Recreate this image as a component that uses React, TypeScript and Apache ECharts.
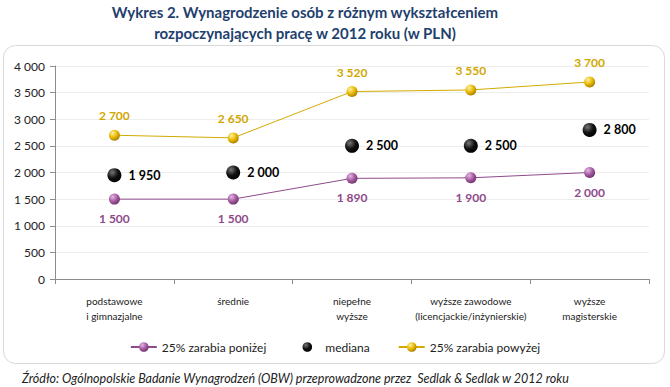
import React, { useEffect, useRef } from "react";
import * as echarts from "echarts";

const categories = [
  "podstawowe\ni gimnazjalne",
  "średnie",
  "niepełne\nwyższe",
  "wyższe zawodowe\n(licencjackie/inżynierskie)",
  "wyższe\nmagisterskie",
];
const lower25 = [1500, 1500, 1890, 1900, 2000];
const median = [1950, 2000, 2500, 2500, 2800];
const upper25 = [2700, 2650, 3520, 3550, 3700];
const seriesNames = ["25% zarabia poniżej", "mediana", "25% zarabia powyżej"];
const titleLines = [
  "Wykres 2. Wynagrodzenie osób z różnym wykształceniem",
  "rozpoczynających pracę w 2012 roku (w PLN)",
];
const sourceText =
  "Źródło: Ogólnopolskie Badanie Wynagrodzeń (OBW) przeprowadzone przez  Sedlak & Sedlak w 2012 roku";

const fmt = (v: number) => {
  const s = String(Math.round(v));
  return s.replace(/\B(?=(\d{3})+(?!\d))/g, " ");
};

const FONT = "Lato, 'Open Sans', sans-serif";

const sphere = (light: string, base: string, dark: string) =>
  new echarts.graphic.RadialGradient(0.35, 0.3, 0.75, [
    { offset: 0, color: light },
    { offset: 0.55, color: base },
    { offset: 1, color: dark },
  ]);

export default function App() {
  const ref = useRef<HTMLDivElement>(null);
  useEffect(() => {
    document.body.style.margin = "0";
    const chart = echarts.init(ref.current!, null, { renderer: "svg" });
    const purple = sphere("#E6B8E3", "#A45AA0", "#6E2F6B");
    const gold = sphere("#FFF0A0", "#E8B800", "#A67C00");
    const black = sphere("#777777", "#111111", "#000000");
    chart.setOption({
      animation: false,
      backgroundColor: "#FFFFFF",
      textStyle: { fontFamily: FONT },
      graphic: [
        {
          type: "rect",
          shape: { x: 3.5, y: 45.5, width: 661, height: 318, r: 12 },
          style: { fill: "none", stroke: "#D9D9D9", lineWidth: 1 },
          z: -1,
        },
        {
          type: "text",
          x: 305,
          y: 12,
          style: {
            text: titleLines[0],
            font: `bold 15px ${FONT}`,
            fill: "#1F3F6E",
            textAlign: "center",
            textVerticalAlign: "middle",
          },
        },
        {
          type: "text",
          x: 305,
          y: 33,
          style: {
            text: titleLines[1],
            font: `bold 15px ${FONT}`,
            fill: "#1F3F6E",
            textAlign: "center",
            textVerticalAlign: "middle",
          },
        },
        {
          type: "text",
          x: 22,
          y: 378,
          style: {
            text: sourceText,
            font: `italic 12.5px ${FONT}`,
            fill: "#222222",
            textAlign: "left",
            textVerticalAlign: "middle",
          },
        },
      ],
      grid: { left: 55, right: 21, top: 66, bottom: 108, containLabel: false },
      legend: {
        top: 336,
        left: "center",
        itemGap: 28,
        itemWidth: 26,
        itemHeight: 12,
        textStyle: { fontSize: 12, color: "#222", fontFamily: FONT },
        data: seriesNames,
      },
      xAxis: {
        type: "category",
        data: categories,
        boundaryGap: true,
        axisLine: { lineStyle: { color: "#8C8C8C" } },
        axisTick: { show: true, length: 5, lineStyle: { color: "#8C8C8C" } },
        axisLabel: {
          fontSize: 10,
          color: "#222",
          lineHeight: 15,
          margin: 14,
          interval: 0,
          fontFamily: FONT,
        },
      },
      yAxis: {
        type: "value",
        min: 0,
        max: 4000,
        interval: 500,
        axisLine: { show: true, lineStyle: { color: "#8C8C8C" } },
        axisTick: { show: true, length: 5, lineStyle: { color: "#8C8C8C" } },
        splitLine: { lineStyle: { color: "#EDEDED" } },
        axisLabel: {
          fontSize: 12,
          color: "#222",
          margin: 10,
          formatter: (v: number) => fmt(v),
          fontFamily: FONT,
        },
      },
      series: [
        {
          name: seriesNames[0],
          type: "line",
          data: lower25,
          symbol: "circle",
          symbolSize: 11,
          itemStyle: { color: purple, borderWidth: 0 },
          lineStyle: { color: "#8E4A8A", width: 1 },
          label: {
            show: true,
            position: "bottom",
            distance: 8,
            color: "#8E4A8A",
            fontSize: 12,
            fontWeight: "bold",
            fontFamily: FONT,
            formatter: (p: any) => fmt(p.value),
          },
        },
        {
          name: seriesNames[1],
          type: "line",
          data: median,
          symbol: "circle",
          symbolSize: 14,
          itemStyle: { color: black, borderWidth: 0 },
          lineStyle: { width: 0, opacity: 0 },
          label: {
            show: true,
            position: "right",
            distance: 7,
            color: "#000",
            fontSize: 12.5,
            fontWeight: "bold",
            fontFamily: FONT,
            formatter: (p: any) => fmt(p.value),
          },
        },
        {
          name: seriesNames[2],
          type: "line",
          data: upper25,
          symbol: "circle",
          symbolSize: 11,
          itemStyle: { color: gold, borderWidth: 0 },
          lineStyle: { color: "#D4AA00", width: 1 },
          label: {
            show: true,
            position: "top",
            distance: 8,
            color: "#D1A700",
            fontSize: 12,
            fontWeight: "bold",
            fontFamily: FONT,
            formatter: (p: any) => fmt(p.value),
          },
        },
      ],
    });
    return () => chart.dispose();
  }, []);
  return (
    <div
      ref={ref}
      style={{ position: "absolute", left: 0, top: 0, width: 670, height: 387 }}
    />
  );
}
